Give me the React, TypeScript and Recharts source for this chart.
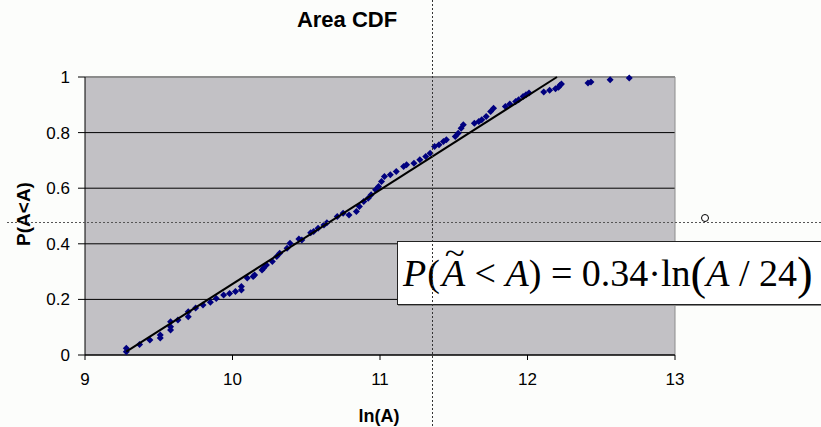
import { ScatterChart, Scatter, XAxis, YAxis, CartesianGrid, ReferenceLine } from 'recharts';

const lnArea = [
  9.28, 9.28, 9.37, 9.44, 9.51, 9.51, 9.58, 9.58, 9.58, 9.63,
  9.7, 9.7, 9.75, 9.8, 9.85, 9.89, 9.94, 9.98, 10.02, 10.06,
  10.06, 10.1, 10.14, 10.15, 10.2, 10.21, 10.23, 10.27, 10.3, 10.32,
  10.37, 10.39, 10.45, 10.47, 10.53, 10.55, 10.58, 10.62, 10.64, 10.71,
  10.75, 10.79, 10.84, 10.86, 10.89, 10.92, 10.94, 10.97, 10.99, 11.01,
  11.03, 11.07, 11.11, 11.16, 11.18, 11.23, 11.27, 11.31, 11.34, 11.37,
  11.4, 11.43, 11.45, 11.51, 11.53, 11.55, 11.565, 11.64, 11.67, 11.69,
  11.72, 11.75, 11.77, 11.85, 11.88, 11.92, 11.94, 11.97, 11.99, 12.01,
  12.11, 12.15, 12.19, 12.21, 12.22, 12.23, 12.41, 12.43, 12.56, 12.69,
];
const cdf = [
  0.012, 0.024, 0.038, 0.054, 0.061, 0.072, 0.09, 0.102, 0.12, 0.126,
  0.138, 0.156, 0.169, 0.18, 0.19, 0.203, 0.216, 0.221, 0.228, 0.234,
  0.246, 0.277, 0.282, 0.288, 0.306, 0.312, 0.324, 0.336, 0.354, 0.366,
  0.384, 0.402, 0.417, 0.414, 0.44, 0.444, 0.456, 0.468, 0.476, 0.498,
  0.51, 0.504, 0.516, 0.534, 0.552, 0.564, 0.576, 0.594, 0.606, 0.624,
  0.642, 0.648, 0.66, 0.678, 0.684, 0.69, 0.702, 0.714, 0.726, 0.75,
  0.756, 0.768, 0.774, 0.786, 0.798, 0.816, 0.828, 0.834, 0.84, 0.846,
  0.858, 0.876, 0.888, 0.894, 0.903, 0.912, 0.918, 0.93, 0.936, 0.942,
  0.946, 0.952, 0.958, 0.963, 0.97, 0.975, 0.978, 0.982, 0.99, 0.996,
];

// end points of the fitted trend line
const fitX = [9.28, 12.2];
const fitY = [0.012, 1.0];

const xTicks = [9, 10, 11, 12, 13];
const yTicks = [0, 0.2, 0.4, 0.6, 0.8, 1];

const points = lnArea.map((x, i) => ({ x, y: cdf[i] }));
const fit = fitX.map((x, i) => ({ x, y: fitY[i] }));

const FONT = 'Arial, "Liberation Sans", sans-serif';

function Diamond(props: { cx?: number; cy?: number }) {
  const { cx = 0, cy = 0 } = props;
  const r = 3.5;
  return (
    <polygon
      points={`${cx},${cy - r} ${cx + r},${cy} ${cx},${cy + r} ${cx - r},${cy}`}
      fill="#00007f"
    />
  );
}

function YLabel(props: { viewBox?: { x: number; y: number; width: number; height: number } }) {
  const vb = props.viewBox!;
  const x = vb.x + 23;
  const y = vb.y + vb.height / 2 - 2;
  return (
    <text
      x={x}
      y={y}
      transform={`rotate(-90 ${x} ${y})`}
      textAnchor="middle"
      dominantBaseline="central"
      fontFamily={FONT}
      fontWeight="bold"
      fontSize={19}
      fill="#000"
    >
      P(A&lt;A)
    </text>
  );
}

function XLabel(props: { viewBox?: { x: number; y: number; width: number; height: number } }) {
  const vb = props.viewBox!;
  return (
    <text
      x={vb.x + vb.width / 2 - 1}
      y={vb.y + 67}
      textAnchor="middle"
      fontFamily={FONT}
      fontWeight="bold"
      fontSize={18}
      fill="#000"
    >
      ln(A)
    </text>
  );
}

export default function App() {
  return (
    <div
      style={{
        position: 'absolute',
        left: 0,
        top: 0,
        width: 821,
        height: 427,
        overflow: 'hidden',
        background: '#fcfdfb',
      }}
    >
      <div
        style={{
          position: 'absolute',
          left: 247,
          top: 7,
          width: 200,
          textAlign: 'center',
          fontFamily: FONT,
          fontWeight: 'bold',
          fontSize: 22,
        }}
      >
        Area CDF
      </div>
      <ScatterChart width={821} height={427} margin={{ top: 77, right: 146, left: 0, bottom: 0 }}>
        <CartesianGrid
          vertical={false}
          stroke="#000"
          strokeWidth={1}
          fill="#c2c1c5"
          fillOpacity={1}
        />
        <XAxis
          type="number"
          dataKey="x"
          domain={[9, 13]}
          ticks={xTicks}
          allowDataOverflow
          height={72}
          tickSize={5}
          tickMargin={13}
          axisLine={{ stroke: '#000' }}
          tickLine={{ stroke: '#000' }}
          tick={{ fontSize: 17, fontFamily: FONT, fill: '#000' }}
          label={<XLabel />}
        />
        <YAxis
          type="number"
          dataKey="y"
          domain={[0, 1]}
          ticks={yTicks}
          width={85}
          tickSize={7}
          tickMargin={8}
          axisLine={{ stroke: '#000' }}
          tickLine={{ stroke: '#000' }}
          tick={{ fontSize: 17, fontFamily: FONT, fill: '#000' }}
          label={<YLabel />}
        />
        <ReferenceLine y={1} stroke="#8c8c8c" strokeWidth={2} />
        <ReferenceLine x={13} stroke="#8c8c8c" strokeWidth={1} />
        <Scatter data={points} shape={<Diamond />} isAnimationActive={false} />
        <Scatter
          data={fit}
          line={{ stroke: '#000', strokeWidth: 2 }}
          shape={() => null}
          isAnimationActive={false}
        />
      </ScatterChart>
      <div
        style={{
          position: 'absolute',
          left: 397,
          top: 241,
          width: 440,
          height: 62,
          background: '#fff',
          border: '1px solid #222',
          boxShadow: '1px 1px 0 #888',
          fontFamily: '"Liberation Serif", "Times New Roman", serif',
          fontSize: 38,
          lineHeight: '62px',
          whiteSpace: 'nowrap',
          paddingLeft: 5,
          color: '#000',
        }}
      >
        <i>P</i>
        <span style={{ marginLeft: 1 }}>(</span>
        <span style={{ position: 'relative', marginLeft: 2 }}>
          <i>A</i>
          <span
            style={{
              position: 'absolute',
              left: 4,
              top: -30,
              fontSize: 32,
              display: 'inline-block',
              transform: 'scaleX(1.15)',
            }}
          >
            ~
          </span>
        </span>
        {' '}&lt; <i>A</i>) = 0.34·ln
        <span style={{ fontSize: 47, verticalAlign: -3 }}>(</span>
        <i>A</i> / 24
        <span style={{ fontSize: 47, verticalAlign: -3 }}>)</span>
      </div>
      {/* cursor crosshair that was captured in the screenshot */}
      <svg
        width={821}
        height={427}
        style={{ position: 'absolute', left: 0, top: 0, pointerEvents: 'none' }}
      >
        <line x1={432.5} y1={0} x2={432.5} y2={427} stroke="#333" strokeDasharray="2 2" />
        <line x1={7} y1={222.5} x2={821} y2={222.5} stroke="#555" strokeDasharray="2 2" />
        <circle cx={705} cy={218} r={3.5} fill="#fff" stroke="#000" />
      </svg>
    </div>
  );
}
